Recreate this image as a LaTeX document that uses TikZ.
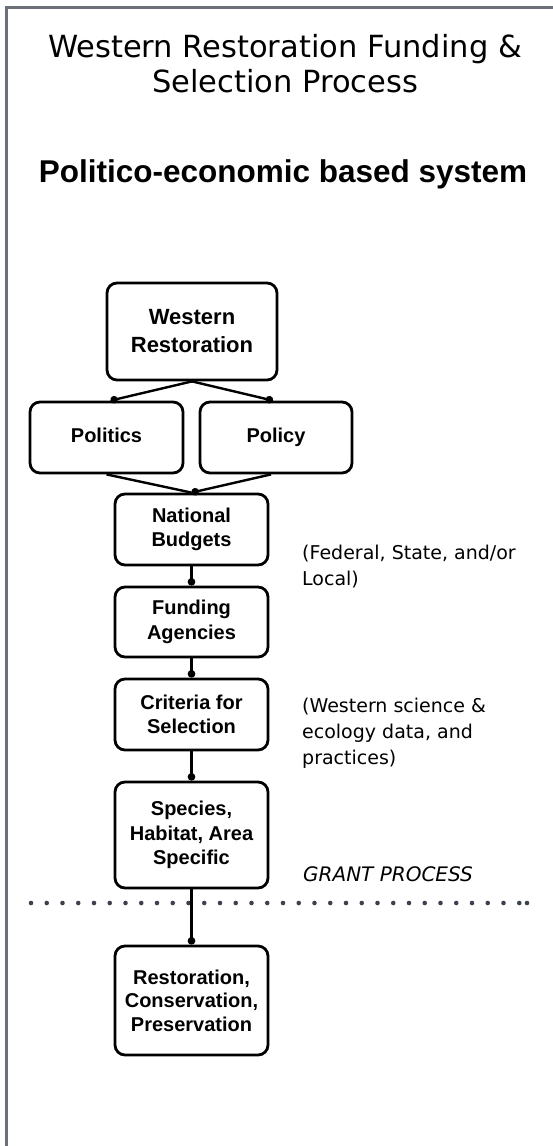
\documentclass[tikz,border=0pt]{standalone}
\usepackage{fontspec}
\setmainfont{DejaVu Sans}
\newfontfamily\bxfamily{Liberation Sans}
\usetikzlibrary{arrows.meta}

\definecolor{framegray}{HTML}{6B7079}
\definecolor{dotgray}{HTML}{3B424C}

\newcommand\bxfont{\bxfamily\bfseries\fontsize{20}{24.5}\selectfont}
\newcommand\sidefont{\fontsize{19}{26}\selectfont}

\tikzset{
  stepbox/.style={draw=black, line width=2.8pt, rounded corners=10pt,
    minimum width=153pt, minimum height=71pt, align=center,
    inner sep=0pt, font=\bxfont},
  link/.style={line width=2.4pt, -{Circle[length=7.5pt,width=7.5pt]}},
  plainlink/.style={line width=2.4pt},
  sidenote/.style={anchor=west, align=left, inner sep=0pt, font=\sidefont},
}

\begin{document}
\begin{tikzpicture}[x=1pt, y=-1pt]
  \useasboundingbox (0,0) rectangle (553,1146);

  % frame edges
  \draw[framegray, line width=2.6pt] (6.2,1146) -- (6.2,7.2) -- (553,7.2);

  % headings
  \node[align=center, inner sep=0pt, font=\fontsize{30.5}{35}\selectfont]
    (title) at (285,64) {Western Restoration Funding \&\\Selection Process};
  \node[anchor=base, inner sep=0pt, font=\bxfamily\bfseries\fontsize{31.5}{36}\selectfont]
    (subtitle) at (283,182) {Politico-economic based system};

  % flow boxes
  \node[stepbox, minimum width=170pt, minimum height=97pt,
        font=\bxfamily\bfseries\fontsize{22}{28}\selectfont]
    (wr) at (192,331.5) {Western\\Restoration};
  \node[stepbox, text height=14.5pt, text depth=4pt] (politics) at (106.5,437.5) {Politics};
  \node[stepbox, minimum width=152pt, text height=14.5pt, text depth=4pt] (policy) at (276,437.5) {Policy};
  \node[stepbox] (budgets) at (191.5,529.5) {National\\Budgets};
  \node[stepbox, minimum height=70pt] (agencies) at (191.5,622) {Funding\\Agencies};
  \node[stepbox] (criteria) at (191.5,714.5) {Criteria for\\Selection};
  \node[stepbox, minimum height=106pt, font=\bxfamily\bfseries\fontsize{20}{24.5}\selectfont]
    (species) at (191.5,835) {Species,\\Habitat, Area\\Specific};
  \node[stepbox, minimum height=109pt, font=\bxfamily\bfseries\fontsize{20}{23.5}\selectfont]
    (outcome) at (191.5,1000.5) {Restoration,\\Conservation,\\Preservation};

  % side notes
  \node[sidenote] (levels) at (302,567) {(Federal, State, and/or\\Local)};
  \node[sidenote] (science) at (302,733) {(Western science \&\\ecology data, and\\practices)};
  \node[anchor=base west, inner sep=0pt, font=\itshape\fontsize{20}{24}\selectfont]
    (grant) at (303,881) {GRANT PROCESS};

  % grant process separator
  \draw[dotgray, line width=4.6pt, line cap=round, dash pattern=on 0pt off 15.75pt]
    (31,903) -- (520,903);
  \fill[dotgray] (527,903) circle (2.3pt);

  % connectors
  \draw[link] (wr.south) -- ([xshift=4pt]politics.north);
  \draw[link] (wr.south) -- ([xshift=-3pt]policy.north);
  \draw[plainlink] (politics.south) -- (budgets.north);
  \draw[link] ([xshift=-5pt]policy.south) -- (budgets.north);
  \draw[link] (budgets.south) -- (agencies.north);
  \draw[link] (agencies.south) -- (criteria.north);
  \draw[link] (criteria.south) -- (species.north);
  \draw[link] (species.south) -- (outcome.north);
\end{tikzpicture}
\end{document}
